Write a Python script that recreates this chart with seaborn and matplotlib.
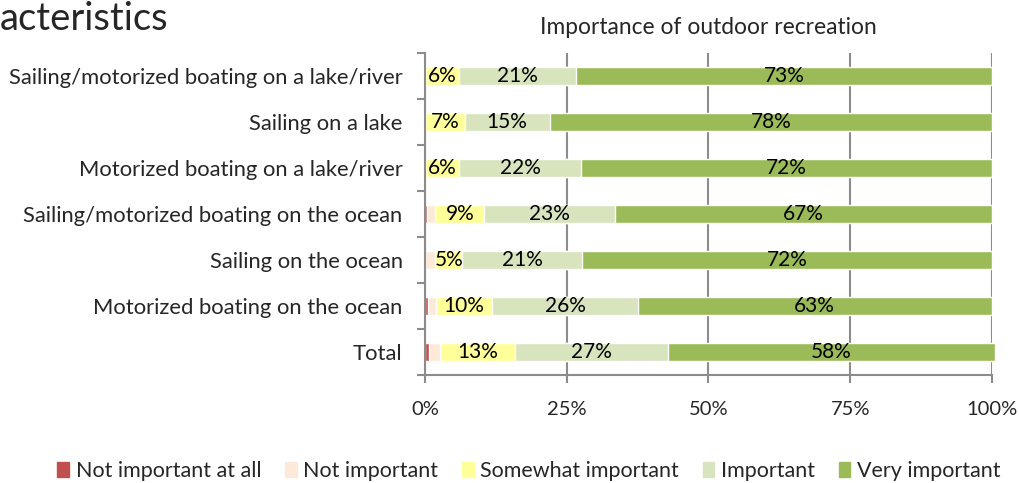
import numpy as np
import pandas as pd
import matplotlib.pyplot as plt
import matplotlib.patches as mpatches
import seaborn as sns

categories = [
    'Sailing/motorized boating on a lake/river',
    'Sailing on a lake',
    'Motorized boating on a lake/river',
    'Sailing/motorized boating on the ocean',
    'Sailing on the ocean',
    'Motorized boating on the ocean',
    'Total',
]
levels = ['Not important at all', 'Not important', 'Somewhat important',
          'Important', 'Very important']
colors = ['#C0504D', '#FDE9D9', '#FFFF99', '#D7E4BD', '#9BBB59']

not_at_all = [0.0, 0.0, 0.0, 0.4, 0.0, 0.6, 0.8]
not_imp = [0.0, 0.0, 0.0, 1.4, 1.8, 1.3, 1.9]
somewhat = [6.0, 7.0, 6.0, 8.7, 4.8, 10.0, 13.1]
important = [20.7, 15.0, 21.6, 23.0, 21.1, 25.6, 27.0]
very = [73.3, 78.0, 72.4, 66.5, 72.3, 62.5, 57.8]

label_somewhat = ['6%', '7%', '6%', '9%', '5%', '10%', '13%']
label_important = ['21%', '15%', '22%', '23%', '21%', '26%', '27%']
label_very = ['73%', '78%', '72%', '67%', '72%', '63%', '58%']

df = pd.DataFrame({'category': categories, levels[0]: not_at_all,
                   levels[1]: not_imp, levels[2]: somewhat,
                   levels[3]: important, levels[4]: very})
cum = df[levels].cumsum(axis=1)

sns.set_theme(style="white")
plt.rcParams['font.family'] = ['Lato', 'DejaVu Sans']

fig = plt.figure(figsize=(10.19, 4.83), dpi=100)
ax = fig.add_axes([0.417, 0.2236, 0.5565, 0.6664])

# overlay cumulative bars, widest first
for lvl, col in zip(levels[::-1], colors[::-1]):
    sns.barplot(x=cum[lvl], y=df['category'], orient='h', color=col,
                width=0.4, saturation=1, ax=ax, zorder=2, clip_on=False)

# segment labels
for i in range(len(categories)):
    for lvl, labs in [(levels[2], label_somewhat), (levels[3], label_important),
                      (levels[4], label_very)]:
        right = cum.loc[i, lvl]
        left = right - df.loc[i, lvl]
        ax.text((left + right) / 2, i, labs[i], ha='center', va='center',
                fontsize=15, color='black', zorder=3)

grid_c = '#8C8C8C'
ax.set_xlim(0, 100)
ax.set_ylim(6.5, -0.5)
ax.set_xticks([0, 25, 50, 75, 100])
ax.set_xticklabels(['0%', '25%', '50%', '75%', '100%'], fontsize=14.5)
ax.xaxis.grid(True, color=grid_c, linewidth=1.5)
ax.set_axisbelow(True)
ax.set_xlabel('')
ax.set_ylabel('')
ax.set_yticks(np.arange(-0.5, 7, 1), minor=True)
ax.tick_params(axis='y', which='major', length=0, pad=16, labelsize=15.8)
ax.tick_params(axis='y', which='minor', left=True, length=6, width=1.5, color=grid_c)
ax.tick_params(axis='x', which='major', bottom=True, length=6, width=1.5,
               color=grid_c, pad=13)
for s in ['top', 'right']:
    ax.spines[s].set_visible(False)
for s in ['left', 'bottom']:
    ax.spines[s].set_color(grid_c)
    ax.spines[s].set_linewidth(1.5)

ax.set_title('Importance of outdoor recreation', fontsize=16.4, pad=14)
fig.text(0.0, 0.998, 'acteristics', fontsize=27.5, ha='left', va='top')

handles = [mpatches.Patch(color=c, label=l) for l, c in zip(levels, colors)]
fig.legend(handles=handles, loc='center', bbox_to_anchor=(0.519, 0.025),
           ncol=5, frameon=False, fontsize=15.5, handlelength=0.55,
           handleheight=0.75, handletextpad=0.3, columnspacing=1.1,
           borderaxespad=0)

fig.savefig('out.png', dpi=100)
